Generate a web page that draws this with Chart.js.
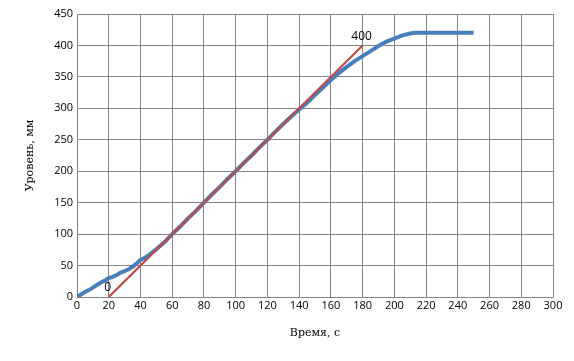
<!DOCTYPE html>
<html>
<head>
<meta charset="utf-8">
<script src="https://cdn.jsdelivr.net/npm/chart.js@4"></script>
<style>
  html, body { margin: 0; padding: 0; background: #fff; }
  #wrap { width: 574px; height: 361px; }
</style>
</head>
<body>
<div id="wrap"><canvas id="chart"></canvas></div>
<script>
// Measured level (blue) - time, s
const timeSec = [0, 2.5, 5, 7.5, 10, 12.5, 15, 17.5, 20, 22.5, 25, 27.5, 30, 32.5, 35, 37.5, 40, 42.5, 45, 47.5,
  50, 55, 60, 65, 70, 75, 80, 85, 90, 95, 100, 105, 110, 115, 120, 125, 130, 135, 140, 145,
  150, 155, 160, 165, 170, 175, 180, 185, 190, 195, 200, 205, 210, 213, 250];
// level, mm
const levelMm = [0, 4, 8, 11, 15, 19, 23, 26, 30, 32, 35, 39, 41, 44, 48, 53, 59, 62, 66, 71,
  76, 87, 100, 112, 125, 137, 150, 163, 175, 188, 200, 213, 225, 238, 250, 263, 275, 287, 298, 309,
  321, 333, 345, 356, 366, 375, 383, 391, 399, 406, 411, 416, 419, 420, 420];

// Fitted line (red)
const fitTime = [20, 180];
const fitLevel = [0, 400];
const fitLabels = ['0', '400'];

const xTicks = [0, 300, 20];
const yTicks = [0, 450, 50];

const blueData = timeSec.map((t, i) => ({ x: t, y: levelMm[i] }));
const redData = fitTime.map((t, i) => ({ x: t, y: fitLevel[i] }));

// draws the "0" / "400" labels at the ends of the red line
const endLabels = {
  id: 'endLabels',
  afterDatasetsDraw(chart) {
    const ctx = chart.ctx;
    const xs = chart.scales.x, ys = chart.scales.y;
    ctx.save();
    ctx.font = '12px "Open Sans"';
    ctx.fillStyle = '#000';
    ctx.textAlign = 'center';
    ctx.textBaseline = 'bottom';
    fitTime.forEach((t, i) => {
      ctx.fillText(fitLabels[i], xs.getPixelForValue(t) - 1, ys.getPixelForValue(fitLevel[i]) - 3);
    });
    ctx.restore();
  }
};

new Chart(document.getElementById('chart'), {
  type: 'scatter',
  data: {
    datasets: [
      {
        data: blueData,
        showLine: true,
        borderColor: '#4A7EBB',
        borderWidth: 4,
        pointRadius: 0,
        tension: 0,
        order: 2
      },
      {
        data: redData,
        showLine: true,
        borderColor: '#BE4B48',
        borderWidth: 2.2,
        pointRadius: 0,
        order: 1
      }
    ]
  },
  options: {
    responsive: true,
    maintainAspectRatio: false,
    animation: false,
    layout: { padding: { top: 14, right: 21, left: 20, bottom: 17 } },
    plugins: { legend: { display: false }, tooltip: { enabled: false } },
    scales: {
      x: {
        type: 'linear',
        min: xTicks[0], max: xTicks[1],
        ticks: { stepSize: xTicks[2], color: '#000', font: { family: 'Open Sans', size: 11 }, maxRotation: 0, padding: 2 },
        grid: { color: '#868686', lineWidth: 1, drawTicks: false },
        border: { color: '#868686' },
        title: { display: true, text: 'Время, с', color: '#000', font: { family: 'DejaVu Serif', size: 11 } },
        afterFit(scale) { scale.height = 47; }
      },
      y: {
        min: yTicks[0], max: yTicks[1],
        ticks: { stepSize: yTicks[2], color: '#000', font: { family: 'Open Sans', size: 11 }, padding: 4 },
        grid: { color: '#868686', lineWidth: 1, drawTicks: false },
        border: { color: '#868686' },
        title: { display: true, text: 'Уровень, мм', color: '#000', font: { family: 'DejaVu Serif', size: 11 } },
        afterFit(scale) { scale.width = 57; }
      }
    }
  },
  plugins: [endLabels]
});
</script>
</body>
</html>
